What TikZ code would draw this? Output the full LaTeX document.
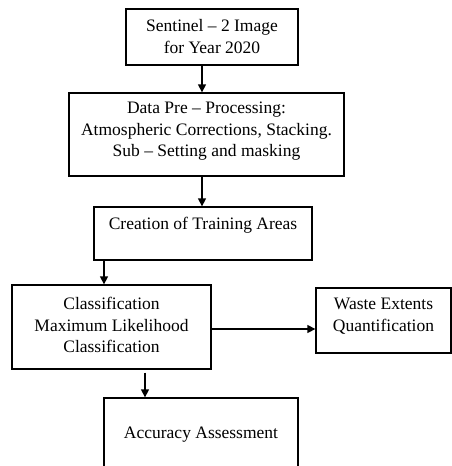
\documentclass[tikz,border=0pt]{standalone}
\usepackage{fontspec}
\setmainfont{Liberation Serif}
\usetikzlibrary{arrows.meta}
\begin{document}
\begin{tikzpicture}[x=1pt,y=-1pt,
  box/.style={draw, line width=1.3pt, rectangle, inner sep=0pt},
  txt/.style={align=center, inner sep=0pt, font=\fontsize{17.5}{21.5}\selectfont},
  arr/.style={line width=1.3pt, -{Triangle[length=8pt,width=8pt]}}]
\useasboundingbox[fill=white] (0,0) rectangle (452,466);
\begin{scope}
\clip (0,0) rectangle (452,466);
% boxes
\node[box, minimum width=172pt, minimum height=56pt] (b1) at (212,37) {};
\node[box, minimum width=275pt, minimum height=83pt] (b2) at (206.5,134.5) {};
\node[box, minimum width=218pt, minimum height=53pt] (b3) at (203,233.5) {};
\node[box, minimum width=199pt, minimum height=84pt] (b4) at (111.5,327) {};
\node[box, minimum width=135pt, minimum height=65pt] (b5) at (383.5,320.5) {};
\node[box, minimum width=194pt, minimum height=110pt] (b6) at (201,453) {};
% labels
\node[txt] (t1) at (212,36.5) {Sentinel -- 2 Image\\for Year 2020};
\node[txt] (t2) at (206.5,131.5) {Data Pre -- Processing:\\Atmospheric Corrections, Stacking.\\Sub -- Setting and masking};
\node[txt] (t3) at (203,225) {Creation of Training Areas};
\node[txt] (t4) at (111.5,325) {Classification\\Maximum Likelihood\\Classification};
\node[txt] (t5) at (383.5,316) {Waste Extents\\Quantification};
\node[txt] (t6) at (201,435) {Accuracy Assessment};
% connector columns
\coordinate (c1) at (202,0);
\coordinate (c2) at (104,0);
\coordinate (c3) at (145,0);
\coordinate (r1) at (0,329);
% connectors
\draw[arr] (b1.south -| c1) -- (b2.north -| c1);
\draw[arr] (b2.south -| c1) -- (b3.north -| c1);
\draw[arr] (b3.south -| c2) -- (b4.north -| c2);
\draw[arr] (b4.east |- r1) -- (b5.west |- r1);
\draw[arr, shorten <=3pt] (b4.south -| c3) -- (b6.north -| c3);
\end{scope}
\end{tikzpicture}
\end{document}
